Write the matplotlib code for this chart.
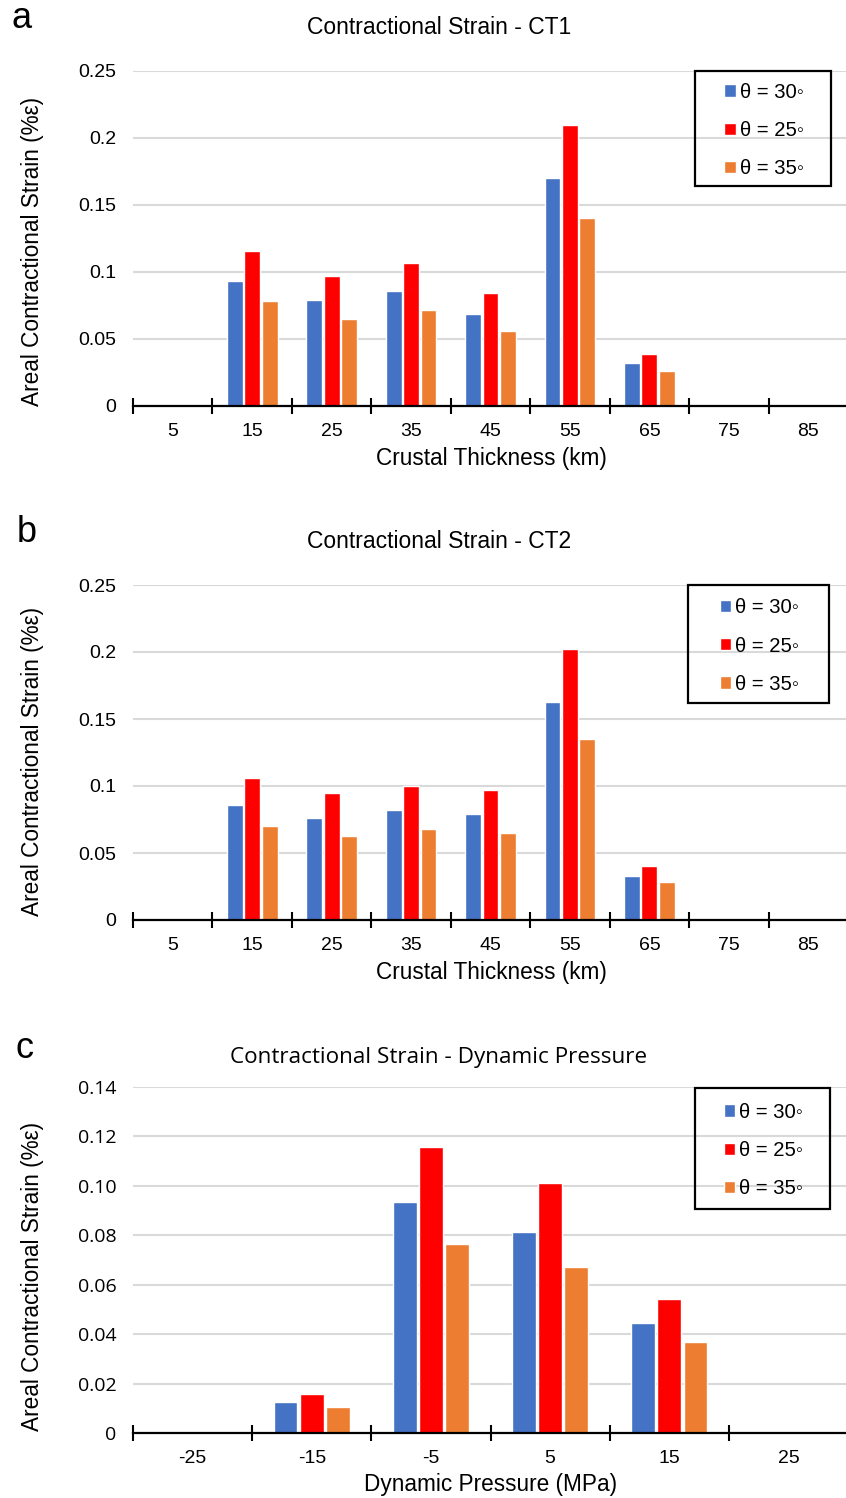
import matplotlib
matplotlib.use("Agg")
import matplotlib.pyplot as plt
from matplotlib.patches import Rectangle
import numpy as np

# ---------------- data ----------------
thickness = ["5", "15", "25", "35", "45", "55", "65", "75", "85"]
ct1_theta30 = [0, 0.093, 0.079, 0.086, 0.069, 0.170, 0.032, 0, 0]
ct1_theta25 = [0, 0.116, 0.097, 0.107, 0.084, 0.210, 0.039, 0, 0]
ct1_theta35 = [0, 0.078, 0.065, 0.072, 0.056, 0.140, 0.026, 0, 0]

ct2_theta30 = [0, 0.086, 0.076, 0.082, 0.079, 0.163, 0.033, 0, 0]
ct2_theta25 = [0, 0.106, 0.095, 0.100, 0.097, 0.202, 0.040, 0, 0]
ct2_theta35 = [0, 0.070, 0.063, 0.068, 0.065, 0.135, 0.028, 0, 0]

pressure = ["-25", "-15", "-5", "5", "15", "25"]
dp_theta30 = [0, 0.0127, 0.0935, 0.0812, 0.0444, 0]
dp_theta25 = [0, 0.0157, 0.1158, 0.1012, 0.0543, 0]
dp_theta35 = [0, 0.0105, 0.0766, 0.0673, 0.0367, 0]

series_labels = ["θ = 30◦", "θ = 25◦", "θ = 35◦"]
colors = ["#4472C4", "#FF0000", "#ED7D31"]

W, H = 846, 1498
fig = plt.figure(figsize=(W / 100, H / 100), dpi=100)

ARIAL = ["Liberation Sans", "DejaVu Sans"]
CAL = ["Open Sans", "DejaVu Sans"]


def fx(px):
    return px / W


def fy(py):
    return 1 - py / H


def make_panel(top_px, bot_px, cats, s30, s25, s35, ymax, ystep, title,
               xlabel, letter, letter_xy, title_y, xlabel_y, ylabel_y,
               legend_px, tickfont, titlefont, yfmt, title_size):
    left_px = 133
    width_px = 715
    ax = fig.add_axes([fx(left_px), fy(bot_px), width_px / W, (bot_px - top_px) / H])
    n = len(cats)
    x = np.arange(n)
    bw = 0.2
    pitch = 0.22
    handles = []
    for k, (vals, c) in enumerate(zip([s30, s25, s35], colors)):
        b = ax.bar(x + (k - 1) * pitch, vals, width=bw, color=c,
                   edgecolor="white", linewidth=1.0, zorder=3)
        handles.append(b)
    ax.set_xlim(-0.5, n - 0.5)
    ax.set_ylim(0, ymax)
    yt = np.arange(0, ymax + ystep / 2, ystep)
    ax.set_yticks(yt)
    ax.set_yticklabels([yfmt(v) for v in yt], fontfamily=tickfont, fontsize=14)
    ax.grid(axis="y", color="#d9d9d9", linewidth=1.5, zorder=0)
    ax.set_axisbelow(True)
    for s in ["top", "right", "left"]:
        ax.spines[s].set_visible(False)
    ax.spines["bottom"].set_linewidth(1.6)
    ax.spines["bottom"].set_color("black")
    ax.spines["bottom"].set_zorder(4)
    ax.tick_params(axis="y", length=0, pad=12, labelcolor="black")
    ax.set_xticks(x)
    ax.set_xticklabels(cats, fontfamily=ARIAL, fontsize=14)
    ax.set_xticks(np.arange(-0.5, n, 1.0), minor=True)
    ax.tick_params(axis="x", which="major", length=0, pad=12)
    ax.tick_params(axis="x", which="minor", direction="inout", length=11,
                   width=1.5, color="black")
    # title, labels, letter
    fig.text(fx(439), fy(title_y), title, ha="center", va="center",
             fontsize=title_size, family=titlefont)
    fig.text(fx(491), fy(xlabel_y), xlabel, ha="center", va="center",
             fontsize=16.3, family=ARIAL)
    fig.text(fx(33), fy(ylabel_y), "Areal Contractional Strain (%ε)",
             ha="center", va="center", rotation=90, fontsize=16.3, family=ARIAL)
    fig.text(fx(letter_xy[0]), fy(letter_xy[1]), letter, ha="center",
             va="center", fontsize=26, family=ARIAL)
    # legend box
    lx0, ly0, lx1, ly1 = legend_px
    rect = Rectangle((fx(lx0), fy(ly1)), (lx1 - lx0) / W, (ly1 - ly0) / H,
                     transform=fig.transFigure, fill=False, edgecolor="black",
                     linewidth=1.6, zorder=10)
    fig.patches.append(rect)
    cx = fx((lx0 + lx1) / 2 + 1)
    cy = fy((ly0 + ly1) / 2 + 2)
    ax.legend(handles, series_labels, loc="center",
              bbox_to_anchor=(cx, cy), bbox_transform=fig.transFigure,
              frameon=False, prop={"family": ARIAL, "size": 14.6},
              handlelength=0.55, handleheight=0.55, handletextpad=0.2,
              labelspacing=0.95, borderpad=0.2)
    return ax


fmt_a = lambda v: ("0" if abs(v) < 1e-9 else ("%.2f" % v).rstrip("0"))
fmt_c = lambda v: ("0" if abs(v) < 1e-9 else "%.2f" % v)

make_panel(71, 406, thickness, ct1_theta30, ct1_theta25, ct1_theta35,
           0.25, 0.05, "Contractional Strain - CT1", "Crustal Thickness (km)",
           "a", (22, 18), 27, 458, 251, (695, 71, 831, 186), ARIAL, ARIAL, fmt_a, 16.5)

make_panel(585, 920, thickness, ct2_theta30, ct2_theta25, ct2_theta35,
           0.25, 0.05, "Contractional Strain - CT2", "Crustal Thickness (km)",
           "b", (27, 532), 541, 972, 761, (688, 585, 829, 703), ARIAL, ARIAL, fmt_a, 16.5)

make_panel(1087, 1433, pressure, dp_theta30, dp_theta25, dp_theta35,
           0.14, 0.02, "Contractional Strain - Dynamic Pressure",
           "Dynamic Pressure (MPa)",
           "c", (24, 1049), 1057, 1485, 1276, (695, 1088, 830, 1209), CAL, CAL, fmt_c, 16.2)

fig.savefig("out.png", dpi=100, facecolor="white")
